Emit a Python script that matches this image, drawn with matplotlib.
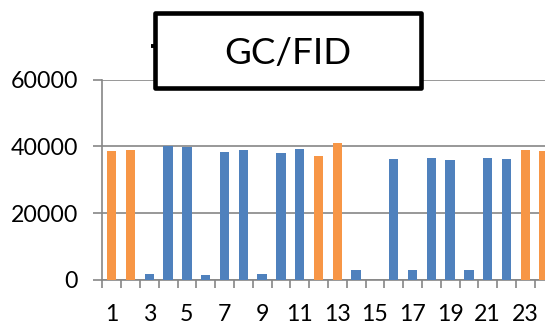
import matplotlib
matplotlib.use("Agg")
import matplotlib.pyplot as plt
from matplotlib.patches import Rectangle
from matplotlib.lines import Line2D
import numpy as np

plt.rcParams['font.family'] = ['Lato', 'DejaVu Sans']

# Sample numbers and GC/FID peak areas
samples = list(range(1, 25))
areas = [38700, 38900, 1900, 40200, 39700, 1600, 38400, 39000, 1800, 38100,
         39300, 37200, 41100, 3000, 0, 36200, 2900, 36500, 36000, 2900,
         36500, 36200, 39000, 38500]
is_reference = [True, True, False, False, False, False, False, False, False, False,
                False, True, True, False, False, False, False, False, False, False,
                False, False, True, True]
x_labels = [str(n) for n in range(1, 25, 2)]
y_ticks = [0, 20000, 40000, 60000]

ORANGE = '#F79646'
BLUE = '#4F81BD'
GRID = '#868686'

W, H = 545, 327
fig = plt.figure(figsize=(W / 100, H / 100), dpi=100)
ax = fig.add_axes([102.3 / W, 47 / H, 451.2 / W, 200.5 / H])

colors = [ORANGE if r else BLUE for r in is_reference]
ax.bar(samples, areas, width=0.5, color=colors, zorder=3)

ax.set_xlim(0.5, 24.5)
ax.set_ylim(0, 60000)
ax.set_yticks(y_ticks)
ax.set_yticklabels([str(v) for v in y_ticks], fontsize=16.7)
ax.yaxis.grid(True, color=GRID, linewidth=1.2, zorder=0)
ax.set_axisbelow(True)

ax.set_xticks(list(range(1, 25, 2)))
ax.set_xticklabels(x_labels, fontsize=16.7)
ax.set_xticks(np.arange(0.5, 25, 1), minor=True)
ax.tick_params(axis='x', which='major', length=0, pad=17)
ax.tick_params(axis='x', which='minor', length=6, width=1.2, color=GRID)
ax.tick_params(axis='y', length=6.5, width=1.2, color=GRID, pad=11)

for side in ('top', 'right'):
    ax.spines[side].set_visible(False)
for side in ('left', 'bottom'):
    ax.spines[side].set_color(GRID)
    ax.spines[side].set_linewidth(1.2)

# Title box laid over the top of the plot
box = Rectangle((155 / W, 1 - 87.8 / H), 265.5 / W, 74.6 / H,
                transform=fig.transFigure, facecolor='white', edgecolor='black',
                linewidth=3.3, joinstyle='round', zorder=5)
fig.add_artist(box)
fig.text(287.7 / W, 1 - 63.5 / H, 'GC/FID', ha='center', va='baseline',
         fontsize=26.5, color='black', zorder=6)
fig.add_artist(Line2D([150.8 / W, 153.5 / W], [1 - 46 / H, 1 - 46 / H],
                      transform=fig.transFigure, color='black',
                      linewidth=2.8, solid_capstyle='butt', zorder=4))

fig.savefig('out.png', dpi=100)
